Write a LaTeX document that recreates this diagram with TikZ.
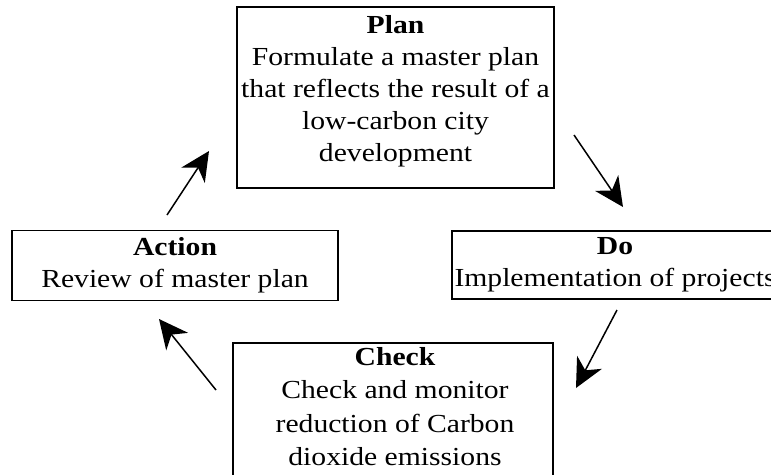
\documentclass[tikz,border=0pt]{standalone}
\usepackage{fontspec}
\setmainfont[FakeStretch=1.14]{Liberation Serif}
\usetikzlibrary{arrows.meta}
\tikzset{
  box/.style={draw=black, line width=1.5pt, rectangle, inner sep=0pt},
  txt/.style={align=center, inner sep=0pt, anchor=north, font=\fontsize{26}{32}\selectfont},
  flow/.style={line width=1.5pt, -{Stealth[length=29pt,width=28pt,inset=9pt]}, shorten >=0pt}
}
\begin{document}
\begin{tikzpicture}[x=1pt,y=-1pt]
\useasboundingbox (0,0) rectangle (771,474);
\clip (0,0) rectangle (771,474);
% boxes
\node[box, minimum width=317pt, minimum height=181pt] (plan) at (395.5,97.5) {};
\node[box, minimum width=326pt, minimum height=70pt] (action) at (175,265.5) {};
\node[box, minimum width=324pt, minimum height=68pt] (do) at (614,265) {};
\node[box, minimum width=320pt, minimum height=140pt] (check) at (393,413) {};
% texts
\node[txt] (plantxt) at (395.5,15) {\textbf{Plan}\\Formulate a master plan\\that reflects the result of a\\low-carbon city\\development};
\node[txt] (actiontxt) at (175,237) {\textbf{Action}\\Review of master plan};
\node[txt] (dotxt) at (615,237) {\textbf{Do}\\Implementation of projects};
\node[txt, font=\fontsize{26}{33.5}\selectfont] (checktxt) at (395,347) {\textbf{Check}\\Check and monitor\\reduction of Carbon\\dioxide emissions};
% arrow end points
\coordinate (a1s) at (167,215);
\coordinate (a1e) at (209,151);
\coordinate (a2s) at (574,135);
\coordinate (a2e) at (623,207);
\coordinate (a3s) at (617,310);
\coordinate (a3e) at (576,388);
\coordinate (a4s) at (216,390);
\coordinate (a4e) at (159,319);
\draw[flow] (a1s) -- (a1e);
\draw[flow] (a2s) -- (a2e);
\draw[flow] (a3s) -- (a3e);
\draw[flow] (a4s) -- (a4e);
\end{tikzpicture}
\end{document}
